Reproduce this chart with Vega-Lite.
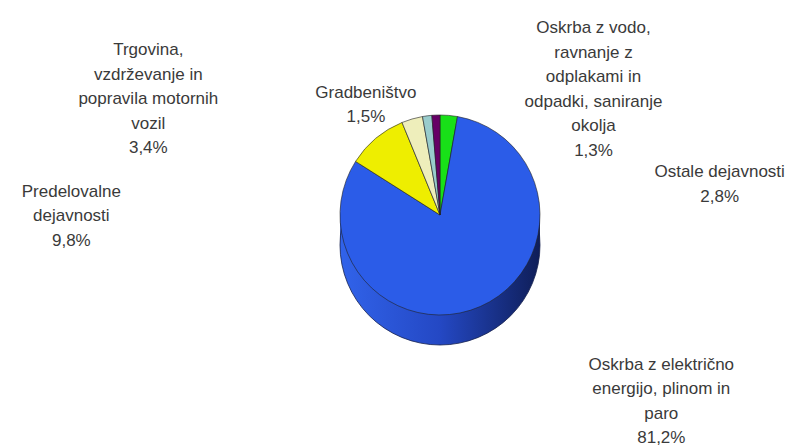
{
  "$schema": "https://vega.github.io/schema/vega-lite/v6.json",
  "width": 730,
  "height": 430,
  "autosize": {"type": "none"},
  "padding": {"left": 75, "top": 0, "right": 0, "bottom": 17},
  "background": "white",
  "config": {
    "view": {"stroke": null},
    "text": {"font": "Liberation Sans", "fontSize": 17, "letterSpacing": 0.6, "lineHeight": 24.5, "fill": "#3a3a3a", "align": "center", "baseline": "middle", "lineBreak": "\n"}
  },
  "data": {
    "values": [
      {"zap": 1, "dejavnost": "Ostale dejavnosti", "delez": 2.8, "oznaka": "Ostale  dejavnosti\n2,8%"},
      {"zap": 2, "dejavnost": "Oskrba z električno energijo, plinom in paro", "delez": 81.2, "oznaka": "Oskrba  z električno\nenergijo,  plinom  in\nparo\n81,2%"},
      {"zap": 3, "dejavnost": "Predelovalne dejavnosti", "delez": 9.8, "oznaka": "Predelovalne\ndejavnosti\n9,8%"},
      {"zap": 4, "dejavnost": "Trgovina, vzdrževanje in popravila motornih vozil", "delez": 3.4, "oznaka": "Trgovina,\nvzdrževanje  in\npopravila  motornih\nvozil\n3,4%"},
      {"zap": 5, "dejavnost": "Gradbeništvo", "delez": 1.5, "oznaka": "Gradbeništvo\n1,5%"},
      {"zap": 6, "dejavnost": "Oskrba z vodo, ravnanje z odplakami in odpadki, saniranje okolja", "delez": 1.3, "oznaka": "Oskrba  z vodo,\nravnanje  z\nodplakami  in\nodpadki,  saniranje\nokolja\n1,3%"}
    ]
  },
  "layer": [
    {
      "transform": [{"aggregate": [{"op": "sum", "field": "delez", "as": "skupaj"}]}],
      "mark": {"type": "arc", "outerRadius": 100, "yOffset": 10, "fill": {"gradient": "linear", "x1": 0, "x2": 1, "y1": 0, "y2": 0, "stops": [{"offset": 0, "color": "#3163ea"}, {"offset": 0.5, "color": "#2448c4"}, {"offset": 1, "color": "#0f1e58"}]}},
      "encoding": {"theta": {"field": "skupaj", "type": "quantitative", "stack": true}}
    },
    {
      "transform": [{"aggregate": [{"op": "sum", "field": "delez", "as": "skupaj"}]}],
      "mark": {"type": "arc", "outerRadius": 100, "yOffset": 20, "fill": {"gradient": "linear", "x1": 0, "x2": 1, "y1": 0, "y2": 0, "stops": [{"offset": 0, "color": "#3163ea"}, {"offset": 0.5, "color": "#2448c4"}, {"offset": 1, "color": "#0f1e58"}]}},
      "encoding": {"theta": {"field": "skupaj", "type": "quantitative", "stack": true}}
    },
    {
      "transform": [{"aggregate": [{"op": "sum", "field": "delez", "as": "skupaj"}]}],
      "mark": {"type": "arc", "outerRadius": 100, "yOffset": 30, "stroke": "#16224f", "strokeWidth": 0.8, "fill": {"gradient": "linear", "x1": 0, "x2": 1, "y1": 0, "y2": 0, "stops": [{"offset": 0, "color": "#3163ea"}, {"offset": 0.5, "color": "#2448c4"}, {"offset": 1, "color": "#0f1e58"}]}},
      "encoding": {"theta": {"field": "skupaj", "type": "quantitative", "stack": true}}
    },
    {
      "mark": {"type": "arc", "outerRadius": 100, "stroke": "#222222", "strokeWidth": 0.6},
      "encoding": {
        "theta": {"field": "delez", "type": "quantitative", "stack": true},
        "order": {"field": "zap", "type": "quantitative"},
        "color": {
          "field": "dejavnost", "type": "nominal", "legend": null,
          "scale": {
            "domain": ["Ostale dejavnosti", "Oskrba z električno energijo, plinom in paro", "Predelovalne dejavnosti", "Trgovina, vzdrževanje in popravila motornih vozil", "Gradbeništvo", "Oskrba z vodo, ravnanje z odplakami in odpadki, saniranje okolja"],
            "range": ["#18e018", "#2b5ce8", "#eeee00", "#eeeebb", "#99cccc", "#660066"]
          }
        }
      }
    },
    {
      "mark": {"type": "text", "radius": 110, "dx": 270, "dy": 67},
      "encoding": {
        "theta": {"field": "delez", "type": "quantitative", "stack": true},
        "order": {"field": "zap", "type": "quantitative"},
        "text": {"condition": {"test": "datum.zap === 1", "field": "oznaka"}, "value": ""}
      }
    },
    {
      "mark": {"type": "text", "radius": 110, "dx": 177, "dy": 49},
      "encoding": {
        "theta": {"field": "delez", "type": "quantitative", "stack": true},
        "order": {"field": "zap", "type": "quantitative"},
        "text": {"condition": {"test": "datum.zap === 2", "field": "oznaka"}, "value": ""}
      }
    },
    {
      "mark": {"type": "text", "radius": 110, "dx": -298, "dy": 61},
      "encoding": {
        "theta": {"field": "delez", "type": "quantitative", "stack": true},
        "order": {"field": "zap", "type": "quantitative"},
        "text": {"condition": {"test": "datum.zap === 3", "field": "oznaka"}, "value": ""}
      }
    },
    {
      "mark": {"type": "text", "radius": 110, "dx": -261, "dy": -59},
      "encoding": {
        "theta": {"field": "delez", "type": "quantitative", "stack": true},
        "order": {"field": "zap", "type": "quantitative"},
        "text": {"condition": {"test": "datum.zap === 4", "field": "oznaka"}, "value": ""}
      }
    },
    {
      "mark": {"type": "text", "radius": 110, "dx": -60, "dy": -13},
      "encoding": {
        "theta": {"field": "delez", "type": "quantitative", "stack": true},
        "order": {"field": "zap", "type": "quantitative"},
        "text": {"condition": {"test": "datum.zap === 5", "field": "oznaka"}, "value": ""}
      }
    },
    {
      "mark": {"type": "text", "radius": 110, "dx": 158, "dy": -77},
      "encoding": {
        "theta": {"field": "delez", "type": "quantitative", "stack": true},
        "order": {"field": "zap", "type": "quantitative"},
        "text": {"condition": {"test": "datum.zap === 6", "field": "oznaka"}, "value": ""}
      }
    }
  ]
}
